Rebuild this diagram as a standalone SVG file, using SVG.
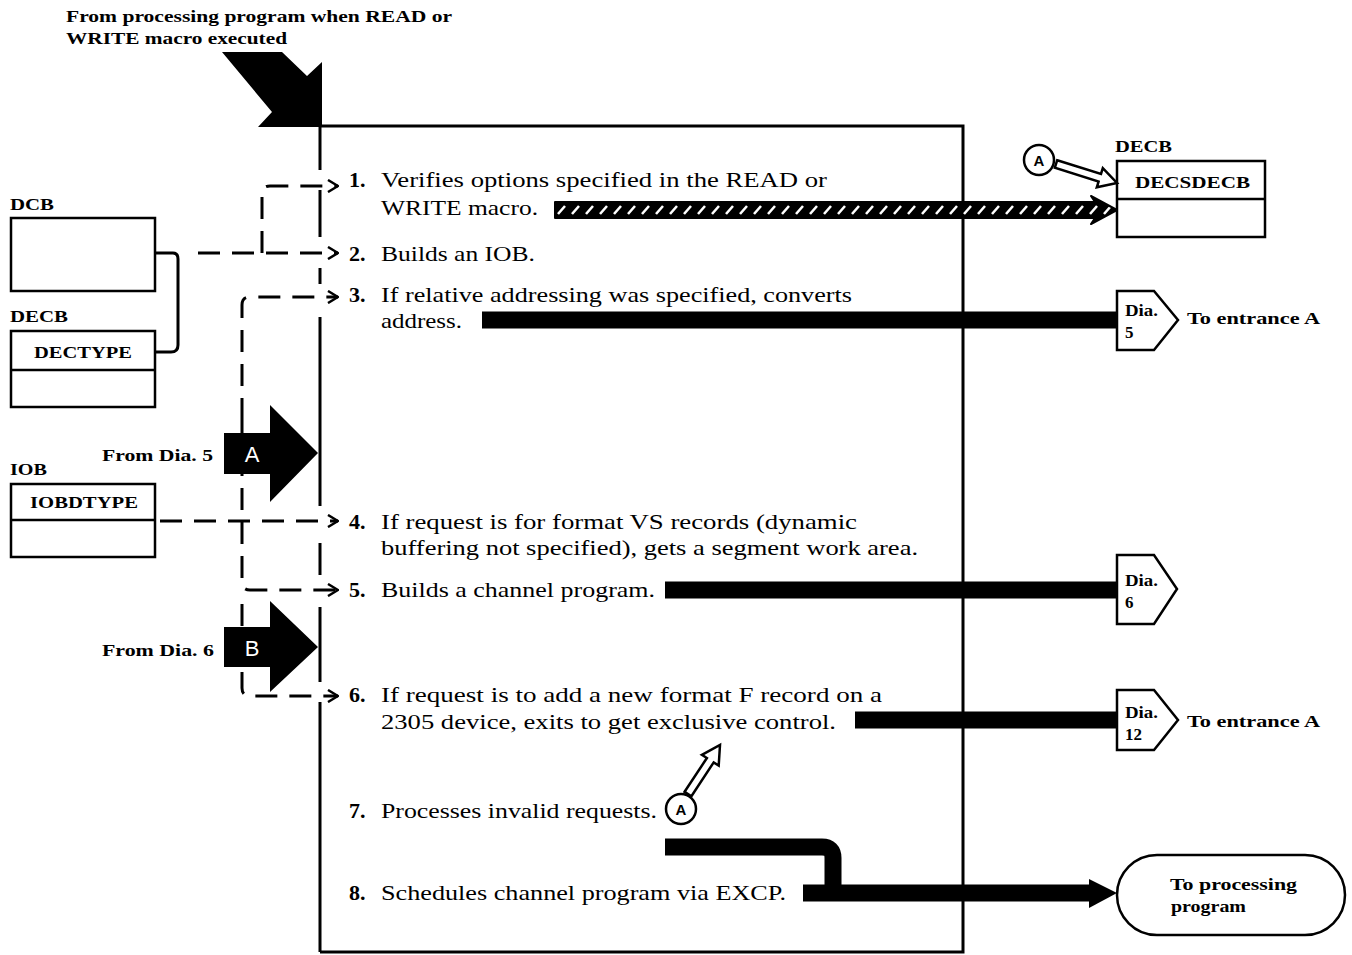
<svg xmlns="http://www.w3.org/2000/svg" width="1352" height="955" viewBox="0 0 1352 955">
<style>
.t{font-family:"Liberation Serif","Times New Roman",serif;font-size:22px;fill:#000}
.n{font-family:"Liberation Serif","Times New Roman",serif;font-size:22px;font-weight:bold;fill:#000}
.l{font-family:"Liberation Serif","Times New Roman",serif;font-size:17px;font-weight:bold;fill:#000}
.s{font-family:"Liberation Serif","Times New Roman",serif;font-size:17px;font-weight:bold;fill:#000}
.box{fill:#fff;stroke:#000;stroke-width:2.5}
.edge{fill:none;stroke:#000;stroke-width:3}
.dash{fill:none;stroke:#000;stroke-width:3;stroke-dasharray:22 12;marker-end:url(#chev)}
.thick{fill:none;stroke:#000;stroke-width:17}
.hollow{fill:#fff;stroke:#000;stroke-width:2.5;stroke-linejoin:miter}
.pent{fill:#fff;stroke:#000;stroke-width:2.5}
.big{fill:#000}
.wl{font-family:"Liberation Sans",Arial,sans-serif;font-size:22px;fill:#fff}
</style>
<defs>
<marker id="chev" viewBox="0 0 12 14" refX="11" refY="7" markerWidth="12" markerHeight="14" markerUnits="userSpaceOnUse" orient="auto">
<path d="M1,1 L11,7 L1,13" fill="none" stroke="#000" stroke-width="2.5"/>
</marker>
<pattern id="hatch" width="14" height="16" patternUnits="userSpaceOnUse" x="555" y="202">
<rect width="14" height="16" fill="#000"/>
<line x1="3" y1="12" x2="10" y2="4" stroke="#fff" stroke-width="2.5"/>
</pattern>
</defs>

<!-- top entry text and arrow -->
<g id="entry">
<text class="l" x="66" y="22" textLength="386" lengthAdjust="spacingAndGlyphs">From processing program when READ or</text>
<text class="l" x="66" y="44" textLength="221" lengthAdjust="spacingAndGlyphs">WRITE macro executed</text>
<polygon class="big" points="222,52 282,52 307,76 322,62 322,127 258,127 272,112"/>
</g>

<!-- main process box -->
<g id="process">
<path class="edge" d="M320,126 H963 V952 H320"/>
<path class="edge" d="M320,126 V170 M320,317 V506 M320,607 V682 M320,702 V952"/>
<path class="edge" d="M320,190 V237 M320,268 V284 M320,543 V575"/>
<text class="n" x="349" y="187">1.</text>
<text class="t" x="381" y="187" textLength="446" lengthAdjust="spacingAndGlyphs">Verifies options specified in the READ or</text>
<text class="t" x="381" y="215" textLength="157" lengthAdjust="spacingAndGlyphs">WRITE macro.</text>
<text class="n" x="349" y="261">2.</text>
<text class="t" x="381" y="261" textLength="154" lengthAdjust="spacingAndGlyphs">Builds an IOB.</text>
<text class="n" x="349" y="302">3.</text>
<text class="t" x="381" y="302" textLength="471" lengthAdjust="spacingAndGlyphs">If relative addressing was specified, converts</text>
<text class="t" x="381" y="328" textLength="81" lengthAdjust="spacingAndGlyphs">address.</text>
<text class="n" x="349" y="529">4.</text>
<text class="t" x="381" y="529" textLength="476" lengthAdjust="spacingAndGlyphs">If request is for format VS records (dynamic</text>
<text class="t" x="381" y="555" textLength="537" lengthAdjust="spacingAndGlyphs">buffering not specified), gets a segment work area.</text>
<text class="n" x="349" y="597">5.</text>
<text class="t" x="381" y="597" textLength="274" lengthAdjust="spacingAndGlyphs">Builds a channel program.</text>
<text class="n" x="349" y="702">6.</text>
<text class="t" x="381" y="702" textLength="501" lengthAdjust="spacingAndGlyphs">If request is to add a new format F record on a</text>
<text class="t" x="381" y="729" textLength="455" lengthAdjust="spacingAndGlyphs">2305 device, exits to get exclusive control.</text>
<text class="n" x="349" y="818">7.</text>
<text class="t" x="381" y="818" textLength="276" lengthAdjust="spacingAndGlyphs">Processes invalid requests.</text>
<text class="n" x="349" y="900">8.</text>
<text class="t" x="381" y="900" textLength="405" lengthAdjust="spacingAndGlyphs">Schedules channel program via EXCP.</text>
</g>

<!-- left data areas -->
<g id="dcb">
<text class="s" x="10" y="210" textLength="44" lengthAdjust="spacingAndGlyphs">DCB</text>
<rect class="box" x="11" y="218" width="144" height="73"/>
</g>
<g id="decb-left">
<text class="s" x="10" y="322" textLength="58" lengthAdjust="spacingAndGlyphs">DECB</text>
<rect class="box" x="11" y="331" width="144" height="76"/>
<line x1="11" y1="370" x2="155" y2="370" stroke="#000" stroke-width="2.5"/>
<text class="s" x="34" y="358" textLength="98" lengthAdjust="spacingAndGlyphs">DECTYPE</text>
</g>
<g id="iob">
<text class="s" x="10" y="475" textLength="37" lengthAdjust="spacingAndGlyphs">IOB</text>
<rect class="box" x="11" y="484" width="144" height="73"/>
<line x1="11" y1="520" x2="155" y2="520" stroke="#000" stroke-width="2.5"/>
<text class="s" x="30" y="508" textLength="108" lengthAdjust="spacingAndGlyphs">IOBDTYPE</text>
</g>

<!-- right DECB -->
<g id="decb-right">
<text class="s" x="1115" y="152" textLength="57" lengthAdjust="spacingAndGlyphs">DECB</text>
<rect class="box" x="1117" y="161" width="148" height="76"/>
<line x1="1117" y1="199" x2="1265" y2="199" stroke="#000" stroke-width="2.5"/>
<text class="s" x="1135" y="188" textLength="115" lengthAdjust="spacingAndGlyphs">DECSDECB</text>
</g>

<!-- entry arrows A and B -->
<g id="from-dia5">
<text class="s" x="102" y="461" textLength="111" lengthAdjust="spacingAndGlyphs">From Dia. 5</text>
<polygon class="big" points="224,433 270,433 270,405 318,453 270,502 270,474 224,474"/>
<text class="wl" x="252" y="462" text-anchor="middle">A</text>
</g>
<g id="from-dia6">
<text class="s" x="102" y="656" textLength="112" lengthAdjust="spacingAndGlyphs">From Dia. 6</text>
<polygon class="big" points="224,627 270,627 270,601 318,647 270,692 270,667 224,667"/>
<text class="wl" x="252" y="656" text-anchor="middle">B</text>
</g>

<!-- off-page connectors -->
<g id="dia5">
<polygon class="pent" points="1117,291 1154,291 1178,320 1154,350 1117,350"/>
<text class="s" x="1125" y="316" textLength="33" lengthAdjust="spacingAndGlyphs">Dia.</text>
<text class="s" x="1125" y="338">5</text>
<text class="s" x="1187" y="324" textLength="133" lengthAdjust="spacingAndGlyphs">To entrance A</text>
</g>
<g id="dia6">
<polygon class="pent" points="1117,555 1154,555 1177,589 1154,624 1117,624"/>
<text class="s" x="1125" y="586" textLength="33" lengthAdjust="spacingAndGlyphs">Dia.</text>
<text class="s" x="1125" y="608">6</text>
</g>
<g id="dia12">
<polygon class="pent" points="1117,690 1154,690 1178,720 1154,750 1117,750"/>
<text class="s" x="1125" y="718" textLength="33" lengthAdjust="spacingAndGlyphs">Dia.</text>
<text class="s" x="1125" y="740">12</text>
<text class="s" x="1187" y="727" textLength="133" lengthAdjust="spacingAndGlyphs">To entrance A</text>
</g>
<g id="terminal">
<rect class="box" x="1117" y="855" width="228" height="80" rx="40" ry="40"/>
<text class="s" x="1170" y="890" textLength="127" lengthAdjust="spacingAndGlyphs">To processing</text>
<text class="s" x="1171" y="912" textLength="75" lengthAdjust="spacingAndGlyphs">program</text>
</g>

<!-- circle A references -->
<g id="ref-a-top">
<circle cx="1039" cy="160" r="15" fill="#fff" stroke="#000" stroke-width="2.5"/>
<text x="1039" y="166" text-anchor="middle" font-family="Liberation Sans,Arial,sans-serif" font-size="15" font-weight="bold">A</text>
</g>
<g id="ref-a-bottom">
<circle cx="681" cy="809" r="15" fill="#fff" stroke="#000" stroke-width="2.5"/>
<text x="681" y="815" text-anchor="middle" font-family="Liberation Sans,Arial,sans-serif" font-size="15" font-weight="bold">A</text>
</g>

<!-- connectors -->
<g id="connectors">
<path class="edge" d="M155,253 H173 Q178,253 178,259 V345 Q178,352 171,352 H155"/>
<path class="dash" d="M198,253 H338"/>
<path class="dash" d="M262,253 V194 Q262,186 270,186 H338"/>
<path class="dash" d="M242,420 V305 Q242,297 250,297 H338"/>
<path class="dash" d="M242,420 V582 Q242,590 250,590 H338"/>
<path class="dash" d="M242,604 V688 Q242,696 250,696 H338"/>
<path class="dash" d="M160,521 H338"/>
<polygon fill="url(#hatch)" stroke="#000" stroke-width="2" stroke-linejoin="round" points="555,202 1095,202 1091,196 1117,210 1091,224 1095,218 555,218"/>
<line class="thick" x1="482" y1="320" x2="1117" y2="320"/>
<line class="thick" x1="665" y1="590" x2="1117" y2="590"/>
<line class="thick" x1="855" y1="720" x2="1117" y2="720"/>
<path class="thick" d="M665,847 H822 Q833,847 833,858 V893"/>
<line class="thick" x1="803" y1="893" x2="1092" y2="893"/>
<polygon fill="#000" points="1089,879 1117,893 1089,908"/>
<polygon class="hollow" points="1057.2,160.2 1101,173.9 1102.8,168.2 1117,183 1096.8,187.3 1098.6,181.5 1054.8,167.8"/>
<polygon class="hollow" points="684.6,791.8 706.9,758 701.9,754.8 720,745 718.7,765.6 713.7,762.4 691.4,796.2"/>
</g>
</svg>
